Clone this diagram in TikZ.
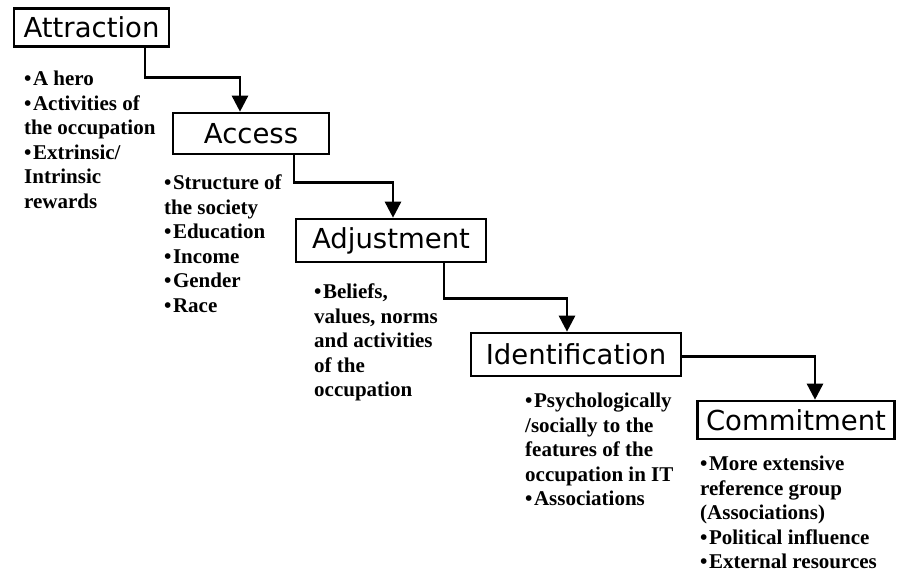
\documentclass[tikz,border=0pt]{standalone}
\usepackage{fontspec}
\usetikzlibrary{arrows.meta}
\newfontfamily\boxfont{DejaVu Sans}
\newfontfamily\listfont{Liberation Serif}
\newcommand{\fl}{\rule{0pt}{14bp}}
\newcommand{\bul}{\textbullet\hspace{1.5bp}}
\begin{document}
\begin{tikzpicture}[x=1bp,y=-1bp,
  stage/.style={draw,line width=2.6bp,rectangle,inner sep=0pt,
    font=\boxfont\fontsize{27.5bp}{30bp}\selectfont},
  listtext/.style={anchor=north west,inner sep=0pt,align=left,
    font=\listfont\bfseries\fontsize{21bp}{24.5bp}\selectfont},
  conn/.style={line width=2.6bp,-{Triangle[width=16bp,length=16bp]}}]
\useasboundingbox[fill=white] (0,0) rectangle (897,573);

\node[stage,minimum width=155bp,minimum height=38bp] (attr) at (91.5,27.5) {Attraction};
\node[stage,minimum width=156bp,minimum height=41bp] (acc) at (251,133.5) {Access};
\node[stage,minimum width=190bp,minimum height=43bp] (adj) at (391,240.5) {Adjustment};
\node[stage,minimum width=210bp,minimum height=43bp] (ident) at (576,354.5) {Identification};
\node[stage,minimum width=197bp,minimum height=38bp] (comm) at (796,420) {Commitment};

\draw[conn] ([xshift=53.5bp]attr.south) -- ++(0,30) -| ([xshift=-11bp]acc.north);
\draw[conn] ([xshift=43bp]acc.south) -- ++(0,27) -| ([xshift=2bp]adj.north);
\draw[conn] ([xshift=53bp]adj.south) -- ++(0,35) -| ([xshift=-9bp]ident.north);
\draw[conn] ([yshift=-2bp]ident.east) -| ([xshift=19bp]comm.north);

\node[listtext] (attrlist) at (24,71) {\fl\bul A hero\\ \bul Activities of\\ the occupation\\ \bul Extrinsic/\\ Intrinsic\\ rewards};
\node[listtext] (acclist) at (164,175) {\fl\bul Structure of\\ the society\\ \bul Education\\ \bul Income\\ \bul Gender\\ \bul Race};
\node[listtext] (adjlist) at (314,284) {\fl\bul Beliefs,\\ values, norms\\ and activities\\ of the\\ occupation};
\node[listtext] (identlist) at (525,393) {\fl\bul Psychologically\\ /socially to the\\ features of the\\ occupation in IT\\ \bul Associations};
\node[listtext] (commlist) at (700,456) {\fl\bul More extensive\\ reference group\\ (Associations)\\ \bul Political influence\\ \bul External resources};
\end{tikzpicture}
\end{document}
